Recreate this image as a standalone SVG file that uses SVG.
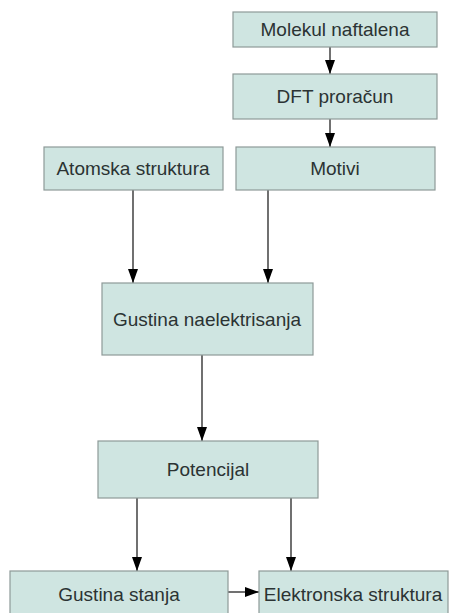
<svg xmlns="http://www.w3.org/2000/svg" width="449" height="613" viewBox="0 0 449 613">
<style>
.box{fill:#cfe5e1;stroke:#8e9a98;stroke-width:1.2}
.lbl{font-family:"Liberation Sans",Arial,sans-serif;font-size:19px;fill:#2b3333;text-anchor:middle}
.edge{stroke:#111;stroke-width:1.2;fill:none;marker-end:url(#arr)}
</style>
<defs>
<marker id="arr" viewBox="0 0 14 10" refX="14" refY="5" markerWidth="14" markerHeight="10" markerUnits="userSpaceOnUse" orient="auto">
<path d="M0,0 L14,5 L0,10 z" fill="#000"/>
</marker>
</defs>
<rect width="449" height="613" fill="#fff"/>
<g id="connectors">
<line class="edge" x1="330" y1="47" x2="330" y2="74"/>
<line class="edge" x1="330" y1="119" x2="330" y2="147"/>
<line class="edge" x1="133" y1="190" x2="133" y2="283"/>
<line class="edge" x1="268" y1="190" x2="268" y2="283"/>
<line class="edge" x1="202" y1="355" x2="202" y2="441"/>
<line class="edge" x1="137" y1="498" x2="137" y2="571"/>
<line class="edge" x1="291" y1="498" x2="291" y2="571"/>
<line class="edge" x1="228" y1="592" x2="259" y2="592"/>
</g>
<g id="molekul"><rect class="box" x="233" y="12" width="204" height="35"/><text class="lbl" x="335" y="36">Molekul naftalena</text></g>
<g id="dft"><rect class="box" x="233" y="74" width="204" height="45"/><text class="lbl" x="335" y="103">DFT proračun</text></g>
<g id="motivi"><rect class="box" x="236" y="147" width="199" height="43"/><text class="lbl" x="335" y="175">Motivi</text></g>
<g id="atomska"><rect class="box" x="44" y="147" width="179" height="43"/><text class="lbl" x="133" y="175">Atomska struktura</text></g>
<g id="gustina-nael"><rect class="box" x="102" y="283" width="211" height="72"/><text class="lbl" x="207" y="326">Gustina naelektrisanja</text></g>
<g id="potencijal"><rect class="box" x="98" y="441" width="220" height="57"/><text class="lbl" x="208" y="476">Potencijal</text></g>
<g id="gustina-stanja"><rect class="box" x="10" y="571" width="218" height="50"/><text class="lbl" x="119" y="601">Gustina stanja</text></g>
<g id="elektronska"><rect class="box" x="259" y="571" width="189" height="50"/><text class="lbl" x="353" y="601">Elektronska struktura</text></g>
</svg>
